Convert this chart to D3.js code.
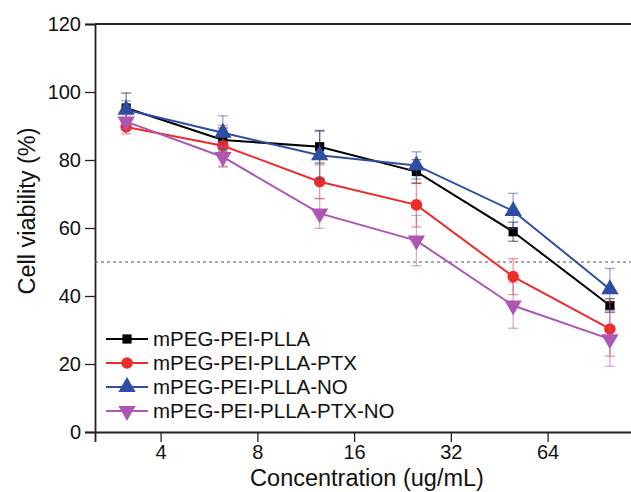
<!DOCTYPE html>
<html>
<head>
<meta charset="utf-8">
<script src="https://cdn.jsdelivr.net/npm/d3@7"></script>
<style>
  body { margin: 0; background: #fff; }
  text { font-family: "Liberation Sans", Arial, sans-serif; fill: #111; }
</style>
</head>
<body>
<svg id="chart" width="631" height="492"></svg>
<script>
// concentrations (ug/mL)
let conc = [3.125, 6.25, 12.5, 25, 50, 100];
let seriesNames = ["mPEG-PEI-PLLA", "mPEG-PEI-PLLA-PTX", "mPEG-PEI-PLLA-NO", "mPEG-PEI-PLLA-PTX-NO"];
let viab_plla = [95.3, 85.9, 83.9, 76.6, 58.9, 37.2];
let viab_ptx = [89.7, 84.2, 73.6, 66.8, 45.7, 30.3];
let viab_no = [94.8, 88.0, 81.4, 78.4, 65.0, 42.0];
let viab_ptxno = [91.3, 80.9, 64.3, 56.3, 37.2, 27.3];
let err_plla = [4.4, 3.5, 4.8, 3.5, 2.8, 2.0];
let err_ptx = [2.0, 6.0, 5.0, 6.5, 5.3, 8.0];
let err_no = [2.6, 5.0, 7.0, 4.0, 5.2, 6.1];
let err_ptxno = [2.0, 3.0, 4.4, 7.4, 6.7, 8.0];
let xTicks = [4, 8, 16, 32, 64];
let yTicks = [0, 20, 40, 60, 80, 100, 120];
let cutoff = 50;

let colors = ["#000000", "#ee2b2b", "#2f4ea3", "#ad57b3"];
let symbols = [d3.symbolSquare, d3.symbolCircle, d3.symbolTriangle, d3.symbolTriangle];
let symSize = [85, 105, 130, 130];
let rotate = [0, 0, 0, 180];

let series = [
    {name: seriesNames[0], values: viab_plla, err: err_plla},
    {name: seriesNames[1], values: viab_ptx, err: err_ptx},
    {name: seriesNames[2], values: viab_no, err: err_no},
    {name: seriesNames[3], values: viab_ptxno, err: err_ptxno}
];

let svg = d3.select("#chart");

let x = d3.scaleLog().base(2)
    .domain([2.5, 120])
    .range([95, 95 + Math.log2(120 / 2.5) * 96.75]);
let y = d3.scaleLinear()
    .domain([0, 120])
    .range([432, 24]);

// minor ticks, base/8 steps inside each doubling
let xMinor = [];
for (let b of [2, 4, 8, 16, 32, 64]) {
    for (let k = 1; k < 8; k++) {
        let v = b + k * b / 8;
        if (v >= 2.5 && v <= 118) xMinor.push(v);
    }
}
let yMinor = [10, 30, 50, 70, 90, 110];

// frame top line
svg.append("line")
    .attr("x1", x.range()[0]).attr("x2", x.range()[1])
    .attr("y1", y(120)).attr("y2", y(120))
    .attr("stroke", "#222").attr("stroke-width", 1.8);

let gx = svg.append("g").attr("transform", "translate(0," + y(0) + ")");
gx.call(d3.axisBottom(x).tickValues(xMinor).tickSize(5).tickFormat(""));
gx.call(d3.axisBottom(x).tickValues(xTicks).tickSize(10).tickPadding(3).tickFormat(d3.format("d")));

let gy = svg.append("g").attr("transform", "translate(" + x.range()[0] + ",0)");
gy.call(d3.axisLeft(y).tickValues(yMinor).tickSize(5).tickFormat(""));
gy.call(d3.axisLeft(y).tickValues(yTicks).tickSize(10).tickPadding(4));

svg.selectAll(".domain").attr("stroke", "#222").attr("stroke-width", 1.8);
svg.selectAll(".tick line").attr("stroke", "#222").attr("stroke-width", 1.3);
svg.selectAll(".tick text").style("font-size", "20px").attr("fill", "#111");
gx.selectAll(".tick text").attr("dy", "0.7em");

// 50% line
svg.append("line")
    .attr("x1", x.range()[0]).attr("x2", x.range()[1])
    .attr("y1", y(cutoff)).attr("y2", y(cutoff))
    .attr("stroke", "#555").attr("stroke-width", 1)
    .attr("stroke-dasharray", "3,3");

let line = d3.line()
    .x((d, i) => x(conc[i]))
    .y(d => y(d));

series.forEach((s, si) => {
    let g = svg.append("g");
    let eb = g.selectAll(".eb").data(s.values).enter().append("g")
        .attr("stroke", colors[si]).attr("stroke-opacity", 0.5).attr("stroke-width", 1.3);
    eb.append("line")
        .attr("x1", (d, i) => x(conc[i])).attr("x2", (d, i) => x(conc[i]))
        .attr("y1", (d, i) => y(d + s.err[i])).attr("y2", (d, i) => y(d - s.err[i]));
    eb.append("line")
        .attr("x1", (d, i) => x(conc[i]) - 5).attr("x2", (d, i) => x(conc[i]) + 5)
        .attr("y1", (d, i) => y(d + s.err[i])).attr("y2", (d, i) => y(d + s.err[i]));
    eb.append("line")
        .attr("x1", (d, i) => x(conc[i]) - 5).attr("x2", (d, i) => x(conc[i]) + 5)
        .attr("y1", (d, i) => y(d - s.err[i])).attr("y2", (d, i) => y(d - s.err[i]));

    g.append("path")
        .datum(s.values)
        .attr("d", line)
        .attr("fill", "none")
        .attr("stroke", colors[si])
        .attr("stroke-width", 2);

    g.selectAll(".mk").data(s.values).enter().append("path")
        .attr("d", d3.symbol().type(symbols[si]).size(symSize[si]))
        .attr("transform", (d, i) => "translate(" + x(conc[i]) + "," + y(d) + ") rotate(" + rotate[si] + ")")
        .attr("fill", colors[si]);
});

// legend
let legend = svg.append("g");
series.forEach((s, si) => {
    let ly = 339 + si * 24;
    legend.append("line")
        .attr("x1", 106).attr("x2", 148).attr("y1", ly).attr("y2", ly)
        .attr("stroke", colors[si]).attr("stroke-width", 2);
    legend.append("path")
        .attr("d", d3.symbol().type(symbols[si]).size(symSize[si]))
        .attr("transform", "translate(127," + ly + ") rotate(" + rotate[si] + ")")
        .attr("fill", colors[si]);
    legend.append("text")
        .attr("x", 153).attr("y", ly + 7)
        .style("font-size", "20.5px")
        .text(s.name);
});

// axis titles
svg.append("text")
    .attr("x", 367).attr("y", 486)
    .attr("text-anchor", "middle")
    .style("font-size", "23.5px")
    .text("Concentration (ug/mL)");

svg.append("text")
    .attr("transform", "translate(35,211) rotate(-90)")
    .attr("text-anchor", "middle")
    .style("font-size", "23.5px")
    .text("Cell viability (%)");
</script>
</body>
</html>
